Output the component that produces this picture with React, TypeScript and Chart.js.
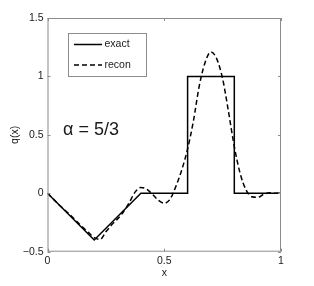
import React, { useEffect, useRef } from "react";
import { Chart, registerables } from "chart.js";

Chart.register(...registerables);

const exactX = [0, 0.2, 0.4, 0.6, 0.6, 0.8, 0.8, 1.0];
const exactY = [0, -0.4, 0, 0, 1, 1, 0, 0];

const reconX = [
  0, 0.025, 0.05, 0.075, 0.1, 0.125, 0.15, 0.175, 0.2, 0.225, 0.25, 0.275, 0.3,
  0.325, 0.35, 0.375, 0.4, 0.425, 0.45, 0.475, 0.5, 0.525, 0.55, 0.575, 0.6,
  0.625, 0.65, 0.675, 0.7, 0.725, 0.75, 0.775, 0.8, 0.825, 0.85, 0.875, 0.9,
  0.925, 0.95, 0.975, 1.0,
];
const reconY = [
  0, -0.05, -0.1, -0.145, -0.19, -0.24, -0.29, -0.335, -0.38, -0.395, -0.33,
  -0.27, -0.22, -0.16, -0.08, 0.01, 0.05, 0.035, -0.01, -0.06, -0.085, -0.05,
  0.06, 0.2, 0.38, 0.62, 0.92, 1.12, 1.21, 1.15, 0.98, 0.7, 0.4, 0.17, 0.03,
  -0.03, -0.035, -0.01, 0.005, 0.0, 0.0,
];

const xTickValues = [0, 0.5, 1];
const xTickLabels = ["0", "0.5", "1"];
const yTickValues = [-0.5, 0, 0.5, 1, 1.5];
const yTickLabels = ["\u22120.5", "0", "0.5", "1", "1.5"];

const seriesLabels = ["exact", "recon"];
const annotationText = "\u03b1 = 5/3";

const FONT = "'Liberation Sans', Arial, Helvetica, sans-serif";
const AXIS_COLOR = "#8c8c8c";
const TEXT_COLOR = "#1a1a1a";

const framePlugin = {
  id: "framePlugin",
  afterDraw(chart: any) {
    const { ctx, chartArea } = chart;
    const { left, right, top, bottom } = chartArea;
    const xs = chart.scales.x;
    const ys = chart.scales.y;
    ctx.save();
    ctx.strokeStyle = AXIS_COLOR;
    ctx.lineWidth = 1;
    ctx.setLineDash([]);
    ctx.strokeRect(left + 0.5, top + 0.5, right - left - 1, bottom - top - 1);
    const tl = 3;
    ctx.beginPath();
    xTickValues.forEach((v) => {
      const px = Math.round(xs.getPixelForValue(v)) + 0.5;
      ctx.moveTo(px, bottom);
      ctx.lineTo(px, bottom - tl);
      ctx.moveTo(px, top);
      ctx.lineTo(px, top + tl);
    });
    yTickValues.forEach((v) => {
      const py = Math.round(ys.getPixelForValue(v)) + 0.5;
      ctx.moveTo(left, py);
      ctx.lineTo(left + tl, py);
      ctx.moveTo(right, py);
      ctx.lineTo(right - tl, py);
    });
    ctx.stroke();

    // legend box
    const bx = 68.5, by = 33.5, bw = 78, bh = 43;
    ctx.fillStyle = "#ffffff";
    ctx.fillRect(bx, by, bw, bh);
    ctx.strokeStyle = AXIS_COLOR;
    ctx.strokeRect(bx, by, bw, bh);
    const ds = chart.data.datasets;
    const rows = [44.5, 65];
    ds.forEach((d: any, i: number) => {
      ctx.beginPath();
      ctx.strokeStyle = d.borderColor;
      ctx.lineWidth = d.borderWidth;
      ctx.setLineDash(d.borderDash || []);
      ctx.moveTo(74, rows[i]);
      ctx.lineTo(102, rows[i]);
      ctx.stroke();
      ctx.setLineDash([]);
      ctx.fillStyle = TEXT_COLOR;
      ctx.font = `10.5px ${FONT}`;
      ctx.textAlign = "left";
      ctx.textBaseline = "middle";
      ctx.fillText(d.label, 104.5, rows[i]);
    });

    ctx.fillStyle = TEXT_COLOR;
    ctx.font = `18px ${FONT}`;
    ctx.textAlign = "left";
    ctx.textBaseline = "middle";
    ctx.fillText(annotationText, 63, 130);
    ctx.restore();
  },
};

export default function App() {
  const ref = useRef<HTMLCanvasElement>(null);
  useEffect(() => {
    if (!ref.current) return;
    const chart = new Chart(ref.current, {
      type: "line",
      data: {
        datasets: [
          {
            label: seriesLabels[0],
            data: exactX.map((x, i) => ({ x, y: exactY[i] })),
            borderColor: "#000000",
            borderWidth: 1.5,
            pointRadius: 0,
            tension: 0,
            fill: false,
          },
          {
            label: seriesLabels[1],
            data: reconX.map((x, i) => ({ x, y: reconY[i] })),
            borderColor: "#000000",
            borderWidth: 1.5,
            borderDash: [5, 3],
            pointRadius: 0,
            cubicInterpolationMode: "monotone",
            fill: false,
          },
        ],
      },
      options: {
        animation: false,
        responsive: false,
        devicePixelRatio: 1,
        layout: { padding: { top: 18, right: 33, left: 0, bottom: 0 } },
        plugins: {
          legend: { display: false },
          tooltip: { enabled: false },
        },
        scales: {
          x: {
            type: "linear",
            min: 0,
            max: 1,
            afterFit: (s: any) => {
              s.height = 34.3;
            },
            afterBuildTicks: (s: any) => {
              s.ticks = xTickValues.map((v) => ({ value: v }));
            },
            ticks: {
              padding: 3,
              color: TEXT_COLOR,
              font: { family: FONT, size: 10.5 },
              maxRotation: 0,
              callback: (v: any) => {
                const i = xTickValues.indexOf(Number(v));
                return i >= 0 ? xTickLabels[i] : "";
              },
            },
            grid: { display: false, drawTicks: false },
            border: { display: false },
            title: {
              display: true,
              text: "x",
              color: TEXT_COLOR,
              font: { family: FONT, size: 10.5 },
              padding: { top: 0, bottom: 7 },
            },
          },
          y: {
            type: "linear",
            min: -0.5,
            max: 1.5,
            afterFit: (s: any) => {
              s.width = 47.5;
            },
            afterBuildTicks: (s: any) => {
              s.ticks = yTickValues.map((v) => ({ value: v }));
            },
            ticks: {
              padding: 4,
              color: TEXT_COLOR,
              font: { family: FONT, size: 10.5 },
              callback: (v: any) => {
                const i = yTickValues.indexOf(Number(v));
                return i >= 0 ? yTickLabels[i] : "";
              },
            },
            grid: { display: false, drawTicks: false },
            border: { display: false },
            title: {
              display: true,
              text: "q(x)",
              color: TEXT_COLOR,
              font: { family: FONT, size: 10.5 },
              padding: { top: 8.5, bottom: 0 },
            },
          },
        },
      },
      plugins: [framePlugin],
    } as any);
    return () => chart.destroy();
  }, []);
  return (
    <div style={{ position: "absolute", left: 0, top: 0, width: 314, height: 286, background: "#fff" }}>
      <canvas ref={ref} width={314} height={286} style={{ display: "block" }} />
    </div>
  );
}
